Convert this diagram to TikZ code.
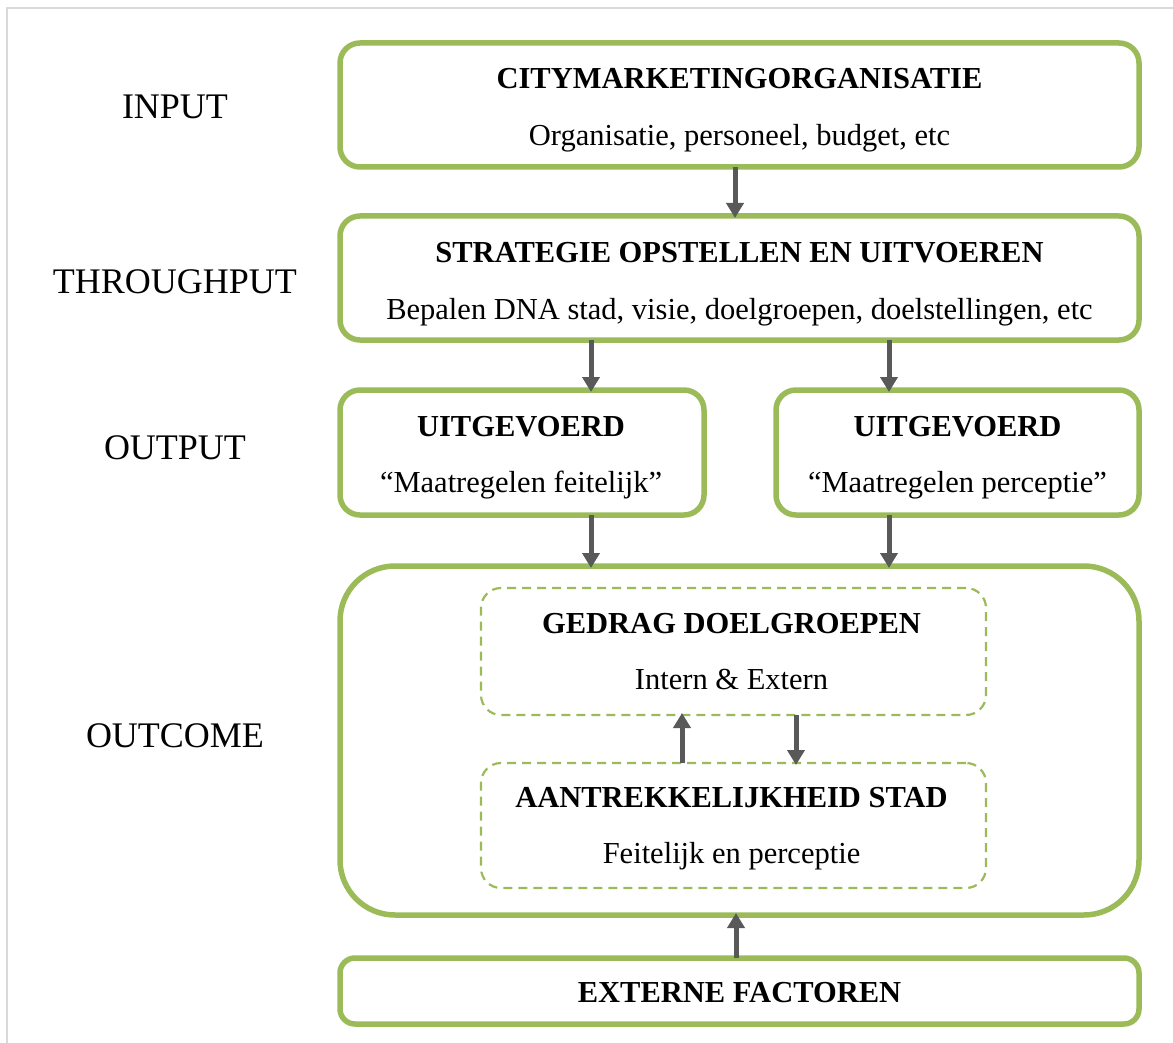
\documentclass[tikz,border=0pt]{standalone}
\usepackage{fontspec}
\setmainfont{Liberation Serif}
\usetikzlibrary{arrows.meta}
\definecolor{boxgreen}{HTML}{9BBB59}
\definecolor{arrgray}{HTML}{595959}
\definecolor{framegray}{HTML}{D9D9D9}
\tikzset{
  mainbox/.style={draw=boxgreen, line width=5.5pt, rounded corners=20pt, rectangle, inner sep=0pt, outer sep=0pt},
  dashbox/.style={draw=boxgreen, line width=2.2pt, dash pattern=on 9pt off 6pt, rounded corners=20pt, rectangle, inner sep=0pt, outer sep=0pt},
  head/.style={anchor=base, inner sep=0pt, font=\fontsize{30.5}{36}\selectfont\bfseries},
  sub/.style={anchor=base, inner sep=0pt, font=\fontsize{30.5}{36}\selectfont},
  side/.style={anchor=base, inner sep=0pt, font=\fontsize{36}{42}\selectfont},
  arr/.style={draw=arrgray, line width=5pt, -{Triangle[length=15pt,width=17pt]}, shorten >=-2pt}
}
\begin{document}
\begin{tikzpicture}[x=1pt,y=-1pt]
\useasboundingbox (0,0) rectangle (1173,1043);
% frame
\draw[framegray, line width=2pt] (7,1043) -- (7,8) -- (1173,8);
% boxes
\node[mainbox, minimum width=799pt, minimum height=124pt] (b1) at (739.5,105) {};
\node[mainbox, minimum width=799pt, minimum height=124pt] (b2) at (739.5,278) {};
\node[mainbox, minimum width=364pt, minimum height=125pt] (b3) at (522,452.5) {};
\node[mainbox, minimum width=363pt, minimum height=125pt] (b4) at (957.5,452.5) {};
\node[mainbox, rounded corners=55pt, minimum width=799pt, minimum height=349pt] (b5) at (739.5,740.5) {};
\node[mainbox, rounded corners=15pt, minimum width=799pt, minimum height=66pt] (b6) at (739.5,991) {};
\node[dashbox, minimum width=505pt, minimum height=127pt] (d1) at (733.5,651.5) {};
\node[dashbox, minimum width=505pt, minimum height=125pt] (d2) at (733.5,825.5) {};
% side labels
\node[side] (l1) at (175,119) {INPUT};
\node[side] (l2) at (175,293) {THROUGHPUT};
\node[side] (l3) at (175,459) {OUTPUT};
\node[side] (l4) at (175,747) {OUTCOME};
% texts
\node[head] (h1) at (739.5,89) {CITYMARKETINGORGANISATIE};
\node[sub] (s1) at (739.5,146) {Organisatie, personeel, budget, etc};
\node[head] (h2) at (739.5,262) {STRATEGIE OPSTELLEN EN UITVOEREN};
\node[sub] (s2) at (739.5,319) {Bepalen DNA stad, visie, doelgroepen, doelstellingen, etc};
\node[head] (h3) at (521,436) {UITGEVOERD};
\node[sub] (s3) at (521,492) {“Maatregelen feitelijk”};
\node[head] (h4) at (957.5,436) {UITGEVOERD};
\node[sub] (s4) at (957.5,492) {“Maatregelen perceptie”};
\node[head] (h5) at (731.5,633) {GEDRAG DOELGROEPEN};
\node[sub] (s5) at (731.5,689) {Intern \& Extern};
\node[head] (h6) at (731.5,807) {AANTREKKELIJKHEID STAD};
\node[sub] (s6) at (731.5,863) {Feitelijk en perceptie};
\node[head] (h7) at (739.5,1002) {EXTERNE FACTOREN};
% arrow x positions
\coordinate (xa) at (735,0);
\coordinate (xb) at (591,0);
\coordinate (xc) at (889,0);
\coordinate (xd) at (682,0);
\coordinate (xe) at (796,0);
\coordinate (xf) at (736,0);
% arrows
\draw[arr] (b1.south -| xa) -- (b2.north -| xa);
\draw[arr] (b2.south -| xb) -- (b3.north -| xb);
\draw[arr] (b2.south -| xc) -- (b4.north -| xc);
\draw[arr] (b3.south -| xb) -- (b5.north -| xb);
\draw[arr] (b4.south -| xc) -- (b5.north -| xc);
\draw[arr] (d2.north -| xd) -- (d1.south -| xd);
\draw[arr] (d1.south -| xe) -- (d2.north -| xe);
\draw[arr] (b6.north -| xf) -- (b5.south -| xf);
\end{tikzpicture}
\end{document}
